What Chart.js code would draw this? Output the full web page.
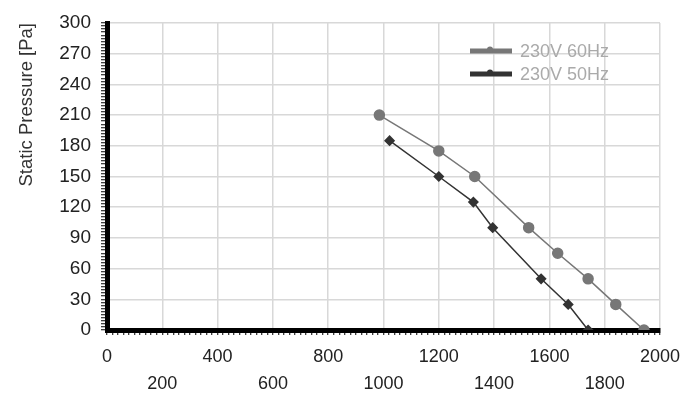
<!DOCTYPE html>
<html>
<head>
<meta charset="utf-8">
<script src="https://cdn.jsdelivr.net/npm/chart.js@4.4.1/dist/chart.umd.min.js"></script>
<style>
    html, body { margin: 0; padding: 0; background: #fff; }
    #wrap { width: 700px; height: 409px; position: relative; }
</style>
</head>
<body>
<div id="wrap"><canvas id="fanchart"></canvas></div>
<script>
// air flow / static pressure points
var flow60Hz = [985, 1200, 1330, 1525, 1630, 1740, 1840, 1942];
var pressure60Hz = [210, 175, 150, 100, 75, 50, 25, 0];
var flow50Hz = [1022, 1200, 1325, 1395, 1570, 1668, 1740];
var pressure50Hz = [185, 150, 125, 100, 50, 25, 0];
var seriesNames = ['230V 60Hz', '230V 50Hz'];
var seriesColors = ['#777777', '#333333'];
var xTicks = [0, 200, 400, 600, 800, 1000, 1200, 1400, 1600, 1800, 2000];
var yTicks = [0, 30, 60, 90, 120, 150, 180, 210, 240, 270, 300];

var FONT = '"Liberation Sans", Arial, sans-serif';

function toPoints(xs, ys) {
    return xs.map(function (x, i) { return {x: x, y: ys[i]}; });
}

function minorTicks(max, step) {
    var t = [];
    for (var v = 0; v <= max + 0.001; v += step) t.push({value: Math.round(v)});
    return t;
}

// legend sits inside the plot, top right
var innerLegend = {
    id: 'innerLegend',
    afterDraw: function (chart) {
        var ctx = chart.ctx;
        var x0 = 470, y0 = 51;
        ctx.save();
        chart.data.datasets.forEach(function (ds, i) {
            var y = y0 + i * 23;
            ctx.strokeStyle = ds.borderColor;
            ctx.lineWidth = 5;
            ctx.beginPath();
            ctx.moveTo(x0, y);
            ctx.lineTo(x0 + 42, y);
            ctx.stroke();
            ctx.fillStyle = ds.borderColor;
            ctx.beginPath();
            ctx.arc(x0 + 20, y - 1.5, 3, 0, Math.PI * 2);
            ctx.fill();
            ctx.fillStyle = '#aaaaaa';
            ctx.font = '18px ' + FONT;
            ctx.textBaseline = 'middle';
            ctx.fillText(ds.label, x0 + 50, y + 1);
        });
        ctx.restore();
    }
};

var ctx = document.getElementById('fanchart');
new Chart(ctx, {
    type: 'line',
    data: {
        datasets: [{
            label: seriesNames[0],
            data: toPoints(flow60Hz, pressure60Hz),
            borderColor: seriesColors[0],
            backgroundColor: seriesColors[0],
            borderWidth: 1.5,
            pointStyle: 'circle',
            pointRadius: 5,
            pointHoverRadius: 5,
            tension: 0,
            fill: false
        }, {
            label: seriesNames[1],
            data: toPoints(flow50Hz, pressure50Hz),
            borderColor: seriesColors[1],
            backgroundColor: seriesColors[1],
            borderWidth: 1.5,
            pointStyle: 'rectRot',
            pointRadius: 4.5,
            pointHoverRadius: 4.5,
            tension: 0,
            fill: false
        }]
    },
    options: {
        responsive: true,
        maintainAspectRatio: false,
        animation: false,
        layout: { padding: { left: 16, top: 23, right: 40, bottom: 0 } },
        plugins: {
            legend: { display: false },
            tooltip: { enabled: false }
        },
        scales: {
            x: {
                type: 'linear',
                min: 0,
                max: 2000,
                afterFit: function (scale) { scale.height = 79; },
                afterBuildTicks: function (scale) { scale.ticks = minorTicks(2000, 20); },
                border: { color: '#000', width: 5 },
                grid: {
                    color: function (c) {
                        return (c.tick && xTicks.indexOf(c.tick.value) >= 0) ? '#d8d8d8' : 'rgba(0,0,0,0)';
                    },
                    lineWidth: 1.5,
                    tickColor: '#000',
                    tickLength: 5,
                    tickWidth: 1
                },
                ticks: {
                    autoSkip: false,
                    maxRotation: 0,
                    padding: 9,
                    color: '#222',
                    font: { family: FONT, size: 18, lineHeight: 1.5 },
                    callback: function (v) {
                        var i = xTicks.indexOf(v);
                        if (i < 0) return '';
                        return i % 2 === 0 ? String(v) : ['', String(v)];
                    }
                }
            },
            y: {
                min: 0,
                max: 300,
                afterFit: function (scale) { scale.width = 91; },
                afterBuildTicks: function (scale) { scale.ticks = minorTicks(300, 3); },
                border: { color: '#000', width: 5 },
                grid: {
                    color: function (c) {
                        return (c.tick && yTicks.indexOf(c.tick.value) >= 0) ? '#d8d8d8' : 'rgba(0,0,0,0)';
                    },
                    lineWidth: 1.5,
                    tickColor: '#000',
                    tickLength: 6,
                    tickWidth: 1
                },
                ticks: {
                    autoSkip: false,
                    padding: 10,
                    color: '#222',
                    font: { family: FONT, size: 19 },
                    callback: function (v) {
                        return yTicks.indexOf(v) >= 0 ? String(v) : '';
                    }
                },
                title: {
                    display: true,
                    text: 'Static Pressure [Pa]',
                    color: '#333',
                    align: 'end',
                    padding: 0,
                    font: { family: FONT, size: 18.5 }
                }
            }
        }
    },
    plugins: [innerLegend]
});
</script>
</body>
</html>
